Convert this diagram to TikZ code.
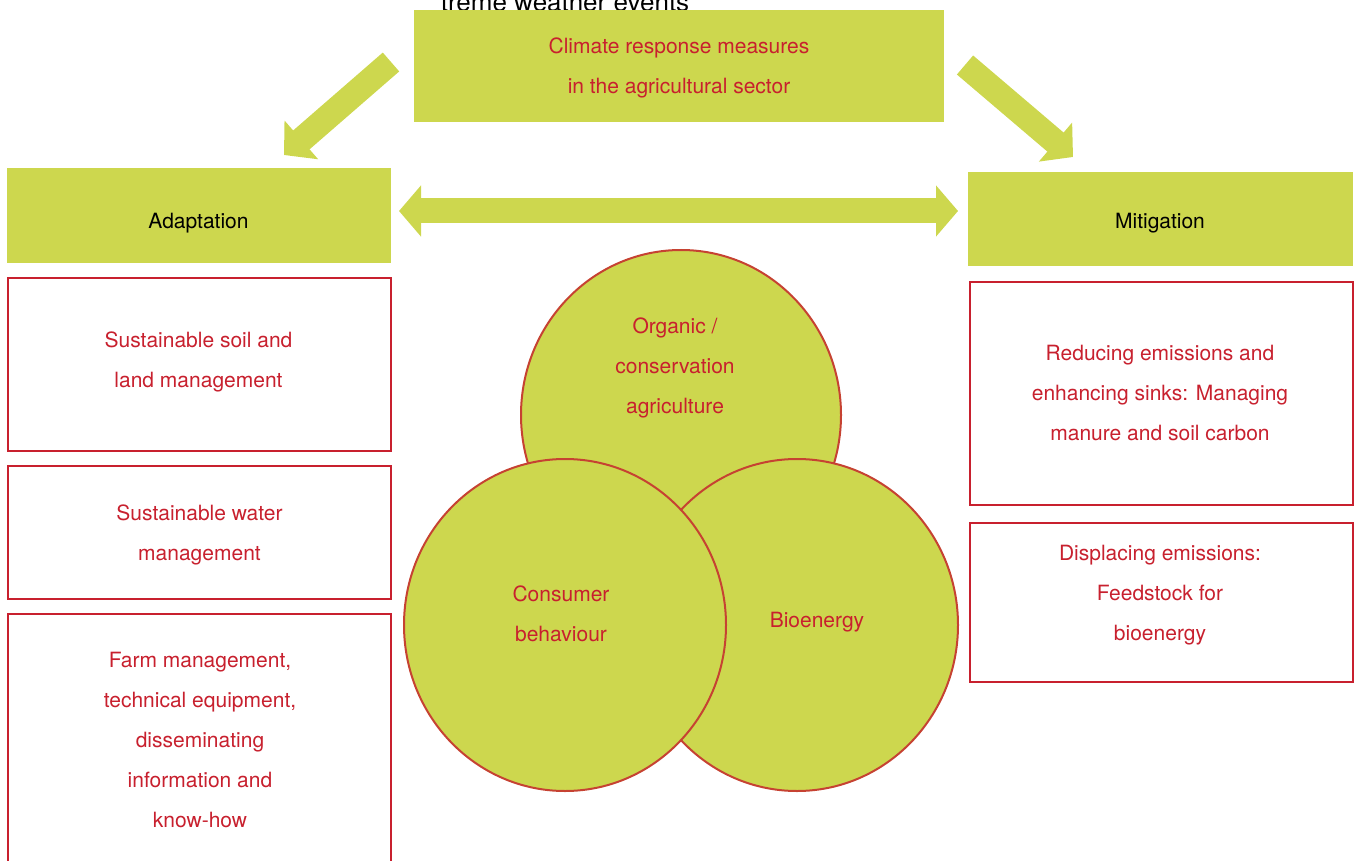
\documentclass[tikz,border=0pt]{standalone}
\usepackage{fontspec}
\setmainfont{TeX Gyre Heros}
\usetikzlibrary{arrows.meta,shapes.geometric}
\definecolor{lime}{RGB}{205,215,78}
\definecolor{txtred}{RGB}{200,32,46}
\definecolor{ringred}{RGB}{198,66,50}
\begin{document}
\begin{tikzpicture}[x=1pt,y=-1pt,
  greenbox/.style={fill=lime, draw=none, inner sep=0pt, anchor=north west},
  redbox/.style={draw=txtred, line width=1.5pt, fill=white, inner sep=0pt, anchor=north west},
  lbl/.style={text=txtred, align=center, inner sep=0pt, anchor=north, font=\fontsize{21}{40}\selectfont},
  blk/.style={text=black, align=center, inner sep=0pt, anchor=north, font=\fontsize{21}{40}\selectfont},
  ring/.style={ellipse, draw=ringred, line width=2pt, fill=lime, inner sep=0pt},
  fat/.style={draw=lime, line width=25pt, -{Triangle[length=23pt,width=50pt]}},
  fatboth/.style={draw=lime, line width=25pt, {Triangle[length=22pt,width=50pt]}-{Triangle[length=22pt,width=50pt]}}
]
\useasboundingbox (0,0) rectangle (1360,861);
\clip (0,0) rectangle (1360,861);

% clipped text at top
\node[blk, font=\fontsize{26}{40}\selectfont] (cut) at (565,-17) {\strut treme weather events};

% top box
\node[greenbox, minimum width=530pt, minimum height=112.5pt] (top) at (414,9.6) {};
\node[lbl] (toptxt) at (679,25) {\strut Climate response measures\\\strut in the agricultural sector};

% headers
\node[greenbox, minimum width=384pt, minimum height=95pt] (adapt) at (7,168) {};
\node[blk] (adapttxt) at (198.5,200) {\strut Adaptation};
\node[greenbox, minimum width=385pt, minimum height=94pt] (mitig) at (968,172) {};
\node[blk] (mitigtxt) at (1160,200) {\strut Mitigation};

% arrows
\coordinate (la1) at (391,62);
\coordinate (la2) at (284,155);
\coordinate (ra1) at (965,65);
\coordinate (ra2) at (1073,157);
\coordinate (ha1) at (399,211);
\coordinate (ha2) at (958,211);
\draw[fat] (la1) -- (la2);
\draw[fat] (ra1) -- (ra2);
\draw[fatboth] (ha1) -- (ha2);

% left boxes
\node[redbox, minimum width=383pt, minimum height=173pt] (l1) at (7,277) {};
\node[lbl] (l1t) at (198.5,319) {\strut Sustainable soil and\\\strut land management};
\node[redbox, minimum width=383pt, minimum height=133pt] (l2) at (7,465) {};
\node[lbl] (l2t) at (199.5,492) {\strut Sustainable water\\\strut management};
\node[redbox, minimum width=383pt, minimum height=300pt] (l3) at (7,613) {};
\node[lbl] (l3t) at (200,639) {\strut Farm management,\\\strut technical equipment,\\\strut disseminating\\\strut information and\\\strut know-how};

% right boxes
\node[redbox, minimum width=383pt, minimum height=223pt] (r1) at (969,281) {};
\node[lbl] (r1t) at (1160,332) {\strut Reducing emissions and\\\strut enhancing sinks: Managing\\\strut manure and soil carbon};
\node[redbox, minimum width=383pt, minimum height=159pt] (r2) at (969,522) {};
\node[lbl] (r2t) at (1160,532) {\strut Displacing emissions:\\\strut Feedstock for\\\strut bioenergy};

% circles
\node[ring, minimum width=320pt, minimum height=330pt] (ctop) at (681,415) {};
\node[ring, minimum width=322pt, minimum height=332pt] (cright) at (797,625) {};
\node[ring, minimum width=322pt, minimum height=332pt] (cleft) at (565,625) {};
\node[lbl] (ctopt) at (675,305) {\strut Organic /\\\strut conservation\\\strut agriculture};
\node[lbl] (clefft) at (561,573) {\strut Consumer\\\strut behaviour};
\node[lbl] (crightt) at (817,599) {\strut Bioenergy};
\end{tikzpicture}
\end{document}
